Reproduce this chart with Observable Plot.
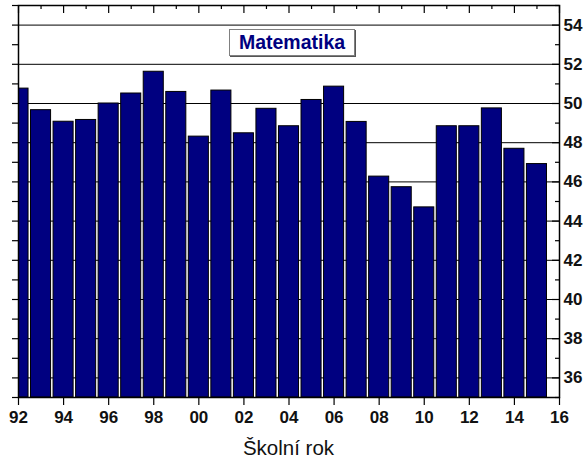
<!DOCTYPE html>
<html>
<head>
<meta charset="utf-8">
<script src="https://cdn.jsdelivr.net/npm/d3@7"></script>
<script src="https://cdn.jsdelivr.net/npm/@observablehq/plot@0.6"></script>
<style>
  body { margin: 0; background: #fff; }
  #wrap { position: relative; width: 586px; height: 466px; font-family: "Liberation Sans", Arial, sans-serif; }
  #chart svg text { font-family: "Liberation Sans", Arial, sans-serif; font-weight: bold; }
  #title { position: absolute; left: 229px; top: 29px; width: 124px; height: 25px; border: 1px solid #808080;
           box-shadow: 1px 1px 0 #555; background: #fff; color: #000080; font-weight: bold; font-size: 19.5px;
           line-height: 25px; text-align: center; }
  #xlabel { position: absolute; left: 0; width: 577px; top: 436px; text-align: center; font-size: 20.5px; color: #111; }
</style>
</head>
<body>
<div id="wrap">
  <div id="chart"></div>
  <div id="title">Matematika</div>
  <div id="xlabel">Školní rok</div>
</div>
<script>
const years = [1992,1993,1994,1995,1996,1997,1998,1999,2000,2001,2002,2003,2004,2005,2006,2007,2008,2009,2010,2011,2012,2013,2014,2015];
const values = [50.76,49.66,49.07,49.16,50.0,50.51,51.62,50.59,48.31,50.66,48.48,49.73,48.84,50.18,50.86,49.06,46.27,45.73,44.70,48.84,48.84,49.75,47.69,46.91];
const xMajor = [1992,1994,1996,1998,2000,2002,2004,2006,2008,2010,2012,2014,2016];
const xMinor = [1993,1995,1997,1999,2001,2003,2005,2007,2009,2011,2013,2015];
const yMajor = [36,38,40,42,44,46,48,50,52,54];
const yMinor = [35,37,39,41,43,45,47,49,51,53,55];
const yAll = yMajor.concat(yMinor);

const data = years.map((y, i) => ({year: y, value: values[i]}));
const half = 0.445;

const plot = Plot.plot({
  width: 586,
  height: 466,
  marginTop: 5,
  marginLeft: 18,
  marginRight: 27,
  marginBottom: 69,
  style: {fontFamily: "'Liberation Sans', Arial, sans-serif", background: "#fff"},
  x: {type: "linear", domain: [1992, 2016], axis: null},
  y: {domain: [35, 55], axis: null},
  marks: [
    Plot.ruleY(yMajor, {y: d => d, stroke: "#000", strokeWidth: 1}),
    Plot.rectY(data, {x1: d => d.year - half, x2: d => d.year + half, y1: 35, y2: "value",
                      fill: "#000080", stroke: "#000", strokeWidth: 1, clip: true}),
    // ticks
    Plot.ruleX(xMajor, {x: d => d, y1: 55, y2: 55, insetBottom: -8, stroke: "#000", strokeWidth: 1.2}),
    Plot.ruleX(xMinor, {x: d => d, y1: 55, y2: 55, insetBottom: -4, stroke: "#000", strokeWidth: 1.2}),
    Plot.ruleX(xMajor, {x: d => d, y1: 35, y2: 35, insetBottom: -8, stroke: "#000", strokeWidth: 1.2}),
    Plot.ruleY(yAll, {y: d => d, x1: 1992, x2: 1992, insetLeft: -6, stroke: "#000", strokeWidth: 1.2}),
    Plot.ruleY(yMajor, {y: d => d, x1: 2016, x2: 2016, insetLeft: -7, stroke: "#000", strokeWidth: 1.2}),
    Plot.ruleY(yMinor, {y: d => d, x1: 2016, x2: 2016, insetLeft: -4, stroke: "#000", strokeWidth: 1.2}),
    Plot.frame({stroke: "#000", strokeWidth: 1.5}),
    Plot.axisX({anchor: "bottom", ticks: xMajor, tickSize: 0, tickPadding: 13,
                tickFormat: d => String(d % 100).padStart(2, "0"), label: null,
                fontSize: 17, fill: "#111"}),
    Plot.axisY({anchor: "right", ticks: yMajor, tickSize: 0, tickPadding: 4,
                tickFormat: d => String(d), label: null,
                fontSize: 17, fill: "#111"})
  ]
});
document.getElementById("chart").appendChild(plot);
</script>
</body>
</html>
